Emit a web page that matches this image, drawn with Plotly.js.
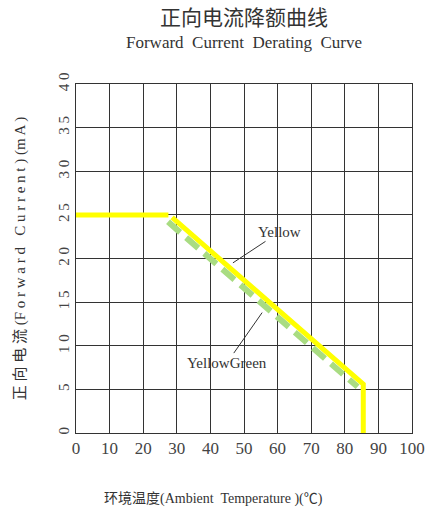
<!DOCTYPE html>
<html>
<head>
<meta charset="utf-8">
<script src="https://cdn.plot.ly/plotly-3.0.1.min.js"></script>
<style>html,body{margin:0;padding:0;background:#fff}#chart{width:427px;height:517px}</style>
</head>
<body>
<div id="chart"></div>
<script>
// Data
var yellowX = [0, 27.5, null, 28.6, 85.5, 85.5];
var yellowY = [25, 25, null, 24.7, 5.6, 0];
var ygX = [27.4, 83.8];
var ygY = [24.2, 5.3];
var xTicks = [0, 10, 20, 30, 40, 50, 60, 70, 80, 90, 100];
var yTicks = [0, 5, 10, 15, 20, 25, 30, 35, 40];
var yTickText = ['0', '5', '1 0', '1 5', '2 0', '2 5', '3 0', '3 5', '4 0'];

var serif = "'Liberation Serif', 'Times New Roman', 'Noto Sans CJK SC', serif";
var traces = [
  {x: ygX, y: ygY, mode: 'lines', line: {color: '#a9dc82', width: 6, dash: '16px,8px'}, hoverinfo: 'skip'},
  {x: yellowX, y: yellowY, mode: 'lines', line: {color: '#ffff00', width: 5}, connectgaps: false, hoverinfo: 'skip'}
];
var layout = {
  width: 427, height: 517,
  margin: {l: 76, r: 15, t: 84, b: 84},
  showlegend: false,
  paper_bgcolor: '#fff', plot_bgcolor: '#fff',
  font: {family: serif, color: '#333'},
  xaxis: {range: [0, 100], tickvals: xTicks, ticktext: xTicks.map(String), showgrid: true, gridcolor: '#333', gridwidth: 1,
          showline: true, linecolor: '#333', mirror: true, zeroline: false, ticks: '', tickfont: {size: 17, family: serif, color: '#444'}},
  yaxis: {range: [0, 40], tickvals: yTicks, ticktext: yTickText, tickangle: -90, showgrid: true, gridcolor: '#333', gridwidth: 1,
          showline: true, linecolor: '#333', mirror: true, zeroline: false, ticks: '', tickfont: {size: 15, family: serif, color: '#444'},
          title: {text: '正 向 电 流 (F o r w a r d   C u r r e n t ) (m A )', font: {size: 15, family: serif, color: '#333'}, standoff: 26}},
  annotations: [
    {xref: 'paper', yref: 'paper', x: 0.5, y: 1, yshift: 66, text: '正向电流降额曲线', showarrow: false, yanchor: 'middle',
     font: {size: 21, family: serif, color: '#333'}},
    {xref: 'paper', yref: 'paper', x: 0.5, y: 1, yshift: 42, text: 'Forward  Current  Derating  Curve', showarrow: false, yanchor: 'middle',
     font: {size: 17, family: serif, color: '#333'}},
    {xref: 'paper', yref: 'paper', x: 0.408, y: 0, yshift: -66, text: '环境温度(Ambient  Temperature )(℃)', showarrow: false, yanchor: 'middle',
     font: {size: 14, family: serif, color: '#333'}},
    {x: 46.7, y: 19.5, ax: 47, ay: -31, text: 'Yellow', showarrow: true, arrowhead: 0, arrowwidth: 1, arrowcolor: '#333',
     font: {size: 15, family: serif, color: '#333'}},
    {x: 55.4, y: 13.8, ax: -35, ay: 50, text: 'YellowGreen', showarrow: true, arrowhead: 0, arrowwidth: 1, arrowcolor: '#333',
     font: {size: 15, family: serif, color: '#333'}}
  ]
};
Plotly.newPlot('chart', traces, layout, {displayModeBar: false, staticPlot: true});
</script>
</body>
</html>
